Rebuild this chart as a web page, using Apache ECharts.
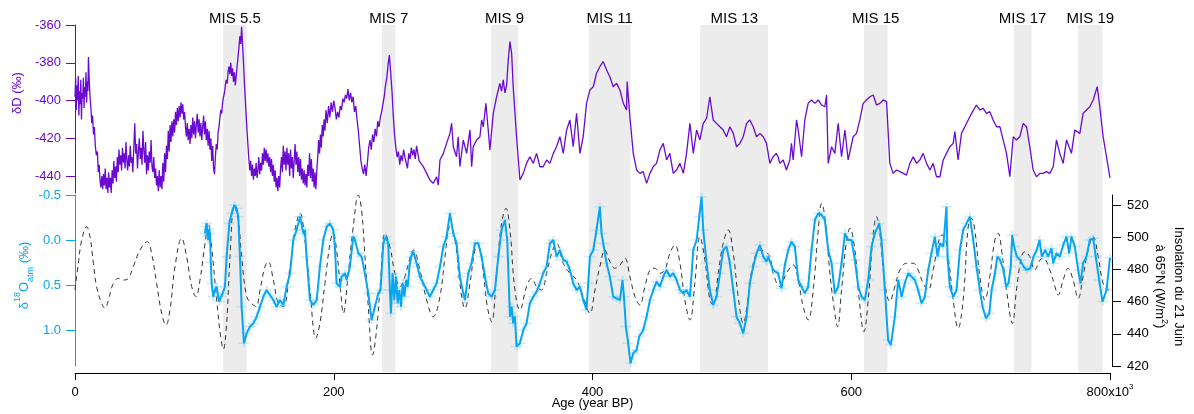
<!DOCTYPE html>
<html><head><meta charset="utf-8">
<script src="https://cdn.jsdelivr.net/npm/echarts@6/dist/echarts.min.js"></script>
<style>html,body{margin:0;padding:0;background:#fff}#c{width:1194px;height:414px}</style>
</head><body><div id="c"></div>
<script>
// ---- data (age in ka BP, values) ----
const deltaD = [
[0,-398],[0.5,-388],[1,-405],[1.5,-392],[2,-400],[2.5,-387],[3,-408],[3.5,-395],[4,-402],[4.5,-389],[5,-410],[5.5,-396],[6,-399],[6.5,-388],[7,-404],[7.5,-393],[8,-398],[8.5,-385],[9,-401],[9.5,-390],[10,-395],[10.4,-377],[11,-389],[11.6,-398],[12.3,-404],[13,-412],[13.6,-408],[14.3,-418],[15,-414],[15.7,-424],[16.5,-429],[17.3,-427],[18,-438],[18.7,-434],[19.3,-442],[20,-446],[20.7,-440],[21.4,-447],[22,-439],[22.7,-445],[23.4,-436],[24,-447],[24.7,-441],[25.4,-449],[26,-438],[26.7,-446],[27.4,-441],[28,-449],[28.7,-437],[29.4,-444],[30,-432],[30.7,-441],[31.4,-435],[32,-443],[32.7,-430],[33.4,-438],[34,-426],[34.7,-434],[35.4,-429],[36,-437],[36.7,-425],[37.4,-433],[38,-428],[38.7,-436],[39.4,-422],[40,-431],[40.7,-437],[41.4,-429],[42,-435],[42.7,-424],[43.4,-433],[44,-430],[44.7,-438],[45.4,-426],[46.2,-412],[46.9,-428],[47.6,-423],[48.3,-436],[49,-427],[49.7,-420],[50.4,-431],[51.1,-425],[51.8,-434],[52.5,-416],[53.2,-426],[53.9,-433],[54.6,-422],[55.3,-439],[56,-429],[56.7,-437],[57.4,-427],[58.1,-433],[58.8,-421],[59.5,-435],[60.2,-438],[60.9,-430],[61.6,-441],[62.3,-436],[63,-445],[63.7,-440],[64.4,-448],[65.1,-437],[65.8,-446],[66.5,-440],[67.2,-447],[67.9,-433],[68.6,-443],[69.3,-428],[70,-438],[70.7,-424],[71.4,-431],[72.1,-416],[72.8,-427],[73.5,-413],[74.2,-422],[74.9,-411],[75.6,-419],[76.3,-410],[77,-417],[77.7,-406],[78.4,-413],[79.1,-404],[79.8,-411],[80.5,-403],[81.2,-409],[81.9,-401],[82.6,-407],[83.3,-402],[84,-410],[84.7,-406],[85.4,-414],[86.1,-419],[86.8,-412],[87.5,-421],[88.2,-415],[88.9,-423],[89.6,-413],[90.3,-420],[91,-409],[91.7,-418],[92.4,-411],[93.1,-420],[93.8,-413],[94.5,-407],[95.2,-417],[95.9,-410],[96.6,-419],[97.3,-412],[98,-421],[98.7,-414],[99.4,-408],[100.1,-418],[100.8,-411],[101.5,-421],[102.2,-415],[102.9,-424],[103.6,-416],[104.3,-426],[105,-420],[105.7,-432],[106.4,-424],[107.1,-436],[107.8,-439],[108.5,-430],[109.2,-423],[109.9,-426],[110.6,-417],[111.3,-414],[112,-409],[112.7,-405],[113.4,-407],[114.1,-401],[114.8,-398],[115.5,-396],[116.2,-392],[116.9,-389],[117.6,-391],[118.3,-385],[119,-382],[119.7,-386],[120.4,-380],[121.1,-387],[121.8,-383],[122.5,-390],[123.2,-385],[123.9,-392],[124.6,-387],[125.3,-382],[126,-377],[126.7,-372],[127.4,-366],[128.1,-370],[128.8,-361],[129.5,-370],[130.2,-379],[130.9,-390],[131.6,-399],[132.3,-408],[133,-416],[133.7,-424],[134.4,-431],[135.1,-437],
[135.8,-432],[136.5,-440],[137.2,-434],[137.9,-442],[138.6,-436],[139.3,-440],[140,-433],[140.7,-441],[141.4,-437],[142.1,-430],[142.8,-439],[143.5,-433],[144.2,-437],[144.9,-428],[145.6,-434],[146.3,-425],[147,-432],[147.7,-426],[148.4,-433],[149.1,-428],[149.8,-435],[150.5,-430],[151.2,-438],[151.9,-431],[152.6,-440],[153.3,-434],[154,-443],[154.7,-437],[155.4,-446],[156.1,-441],[156.8,-448],[157.5,-440],[158.2,-446],[158.9,-436],[159.6,-430],[160.3,-438],[161,-424],[161.7,-434],[162.4,-427],[163.1,-437],[163.8,-425],[164.5,-434],[165.2,-428],[165.9,-440],[166.6,-426],[167.3,-436],[168,-430],[168.7,-441],[169.4,-432],[170.1,-423],[170.8,-434],[171.5,-427],[172.2,-438],[172.9,-430],[173.6,-440],[174.3,-431],[175,-442],[175.7,-436],[176.4,-444],[177.1,-437],[177.8,-445],[178.5,-439],[179.2,-446],[179.9,-434],[180.6,-440],[181.3,-428],[182,-441],[182.7,-431],[183.4,-443],[184.1,-436],[184.8,-446],[185.5,-438],[186.2,-447],[186.9,-437],[187.6,-430],[188.3,-421],[189,-428],[189.7,-418],[190.4,-425],[191.1,-413],[191.8,-419],[192.5,-410],[193.2,-416],[194,-405],[195,-412],[196,-403],[197,-409],[198,-401],[199,-406],[200,-400],[201,-404],[202,-410],[203,-406],[204,-409],[205,-403],[206,-405],[207,-399],[208,-401],[209,-397],[210,-399],[211,-394],[212,-400],[213,-396],[214,-401],[215,-398],[216,-406],[217,-403],[218,-410],[219,-416],[220,-424],[221,-432],[222,-436],[223,-439],[224,-434],[225,-440],[226,-433],[227,-425],[228,-421],[229,-426],[230,-418],[231,-422],[232,-415],[233,-419],[234,-411],[235,-414],[236,-409],[237,-406],[238,-402],[239,-398],[240,-392],[241,-388],[242,-381],[243,-376],[244,-385],[245,-395],[246,-408],[247,-418],[248,-425],[249,-430],[250,-427],[251,-434],[252,-429],[253,-432],[254,-426],[255,-430],[256,-433],[257,-436],[258,-428],[259,-431],[260,-425],[261,-429],[262,-426],[263,-431],[264,-424],[265,-428],[266,-432],
[269.2,-435],[271.8,-438.6],[274.3,-442.1],[276.9,-443.9],[279.5,-440.4],[280.8,-444.8],[282.1,-431.5],[284.7,-428],[287.2,-422.7],[289.8,-417.4],[291.1,-412.1],[292.4,-424.5],[294.9,-429.8],[296.2,-419.2],[297.5,-435],[300.1,-420.9],[302.7,-428],[305.3,-415.6],[306.6,-435.1],[307.8,-424.5],[310.4,-420.9],[313,-419.2],[314.3,-410.3],[315.6,-413.9],[317.6,-401.5],[319.4,-415.6],[320.7,-426.2],[323.3,-406.8],[325.9,-398],[328.4,-390.9],[329.7,-395],[331,-389],[332.3,-396],[333.6,-392],[334.9,-378.5],[336.2,-368.8],[337.5,-375],[338.7,-392.7],[341.3,-419.2],[343.9,-442.1],[346.5,-438.6],[349,-433.3],[351.6,-429.8],[354.2,-433.3],[356.8,-428],[359.4,-435.1],[361.9,-435.1],[364.5,-431.5],[367.1,-433.3],[369.7,-428],[372.2,-424.5],[374.8,-419.2],[377.4,-428],[380,-415.6],[382.5,-410.3],[385.1,-424.5],[387.7,-406.8],[390.3,-428],[392.8,-419.2],[395.4,-401.5],[398,-394.4],[400.6,-392.7],[403.1,-385.6],[405.7,-382.1],[408.3,-379.4],[410.9,-383.8],[413.4,-387.4],[416,-392.7],[418.6,-390.9],[421.2,-394.4],[423.8,-401.5],[426.3,-405],[426.8,-390],[428.9,-408.6],[431.5,-428],[434.1,-436.8],[436.6,-438.6],[439.2,-437.7],[441.8,-443.9],[444.4,-438.6],[447,-435],[449.5,-433.3],[452.1,-426.2],[454.7,-422.7],[457.3,-431.5],[459.8,-428],[462.4,-438.6],[465,-436.8],[467.6,-433.3],[470.2,-438.6],[472.7,-428],[475.3,-412.1],[477.9,-428],[480.5,-415.6],[483,-420.9],[485.6,-412.1],[488.2,-409.4],[490.7,-398],[493.3,-410.3],[495.9,-412.1],[498.5,-413.9],[501,-415.6],[503.6,-419.2],[506.2,-413.9],[508.8,-417.4],[511.3,-424.5],[513.9,-422.7],[516.5,-419.2],[519.1,-412.1],[521.6,-410.3],[524.2,-413.9],[526.8,-419.2],[529.4,-417.4],[532,-419.2],[534.5,-422.7],[537.1,-433.3],
[539.6,-429.8],[542.1,-428],[543.4,-429.8],[544.8,-433.3],[547.4,-431.5],[549.9,-436.8],[552.5,-431.5],[553.8,-422.7],[555.1,-431.5],[557.7,-410.3],[559,-415.6],[561.6,-429.8],[564.1,-410.3],[566.7,-401.5],[569.3,-399.7],[571.9,-401.5],[574.5,-399.7],[577.1,-402.4],[579.6,-403.3],[580.9,-397.1],[582.2,-433.3],[584.8,-424.5],[587.3,-428],[589.9,-412.1],[592.5,-429.8],[595.1,-415.6],[597.6,-431.5],[601.5,-419.2],[604.1,-417.4],[606.6,-410.3],[609.2,-401.5],[611.8,-399.7],[614.4,-398],[617,-397.1],[619.5,-402.4],[622.1,-401.5],[624.7,-399.7],[627.3,-400.6],[629.8,-433.3],[632.4,-438.6],[635,-436.8],[637.6,-437.7],[640.2,-438.6],[642.7,-439.5],[645.3,-433.3],[647.9,-429.8],[650.5,-433.3],[653,-431.5],[655.6,-428],[658.2,-433.3],[660.8,-436.8],[663.3,-433.3],[665.9,-440.4],[668.5,-440.4],[671.1,-431.5],[673.6,-428],[676.2,-424.5],[678.8,-422.7],[680.1,-416.5],[682.6,-431.5],[685.2,-417.4],[687.8,-413.9],[690.4,-410.3],[693,-406.8],[696.8,-402.4],[699.4,-405],[702,-404.2],[704.5,-406.8],[707.1,-405.9],[709.7,-410.3],[712.3,-413.9],[714.9,-413.9],[717.4,-420.9],[720,-428],[722.6,-440.4],[725.2,-419.2],[727.7,-420.9],[730.3,-419.2],[732.9,-412.1],[735.5,-413.9],[738,-424.5],[740.6,-436.8],[743.2,-440.4],[745.8,-438.6],[748.3,-438.6],[750.9,-437.7],[753.5,-438.6],[756.1,-435.1],[758.6,-420.9],[761.2,-428],[763.8,-433.3],[766.4,-420.9],[770.2,-428],[772.8,-415.6],[776.7,-417.4],[779.2,-406.8],[781.8,-405],[784.4,-403.3],[787,-399.7],[790.1,-392.7],[792.1,-403.3],[794.7,-419.2],[797.3,-429.8],[799.4,-438.6],[800,-441]
];
const d18Oatm = [
[100.5,-0.074],[101.2,-0.15],[101.8,-0.185],[102.4,-0.05],[103,0],[103.6,-0.12],[104.3,-0.074],[105,0.25],[105.6,0.481],[106.9,0.63],[108.2,0.55],[109.5,0.519],[110.5,0.62],[111.5,0.685],[112.8,0.63],[114.1,0.593],[115.9,0.519],[117.2,0.185],[119.3,-0.185],[121.1,-0.296],[123.1,-0.389],[124.9,-0.352],[126.2,-0.259],[127.5,0.185],[128.8,0.741],[130.6,1.148],[132.7,1.037],[135.2,0.963],[137.8,0.926],[140.4,0.852],[143,0.741],[145.5,0.63],[148.1,0.556],[150.7,0.611],[153.3,0.667],[155.8,0.741],[158.4,0.667],[161,0.722],[163.6,0.519],[166.2,0.37],[168.7,0],[171.3,-0.111],[173.9,-0.259],[176.5,-0.074],[177.7,-0.111],[179,0.185],[181.6,0.667],[184.2,0.722],[186.8,0.667],[189.3,0.296],[191.9,0],[194.5,-0.148],[197.1,-0.185],[199.6,-0.111],[200.9,0.074],[202.2,0.481],[204.8,0.519],[206.1,0.407],[208.7,0.37],[209.9,0.444],[212.5,0.296],[215.1,-0.037],[216.4,0],[219,0.148],[221.5,0.185],[224.1,0.37],[226.7,0.593],[229.3,0.889],[231.8,0.741],[234.4,0.593],[236.2,0.556],[238.3,0.037],[240.3,-0.037],[242.1,0.037],[243.4,0.556],[244.2,0.815],[245.5,0.37],[246.8,0.667],[248.1,0.407],[249.4,0.704],[250.7,0.556],[252,0.741],[253.3,0.481],[254.6,0.63],[255.9,0.444],[257.2,0.519],[258.5,0.296],[259.8,0.185],[261.5,0.13],[264,0.259],[266.6,0.407],[269.2,0.481],[271.8,0.556],[274.3,0.63],[276.9,0.556],[279.5,0.481],[282.1,0.296],[284.7,0.074],[287.2,-0.037],[289.8,-0.296],[292.4,-0.074],[294.9,0.037],[297.5,0.407],[300.1,0.593],[301.4,0.667],[304,0.37],[306.5,0.259],[309.1,0.037],[311.7,0.037],[314.3,0.185],[316.9,0.407],[319.4,0.593],[322,0.63],[324.6,0.556],[327.2,0.185],[329.7,-0.111],[332.3,-0.222],[334.1,0],[336.2,0.852],[337.5,0.74],[338.7,0.926],[340,0.85],[341.3,1.185],[343.9,1.148],[346.5,1.0],[349,0.926],[351.6,0.704],[354.2,0.63],[356.8,0.574],[359.4,0.481],[361.9,0.37],[364.5,0.296],[367.1,0.037],[369.7,0],[372.2,0.185],[374.8,0.111],[377.4,0.222],[380,0.241],[382.5,0.333],[385.1,0.481],[387.7,0.556],[390.3,0.519],[392.8,0.667],[395.4,0.778],[396.7,0.481],[398,0.185],[400.6,0.111],[403.1,-0.111],[405.7,-0.37],[407,-0.074],[408.3,0.037],[410.9,0.259],[413.4,0.407],[416,0.63],[418.6,0.648],[421.2,0.667],[423.2,0.444],[424.3,0.63],[425.8,0.963],[427.6,1.148],[429.4,1.37],[431.5,1.259],[434.1,1.222],[436.1,1.074],[439.2,1.0],[441.8,0.852],[444.4,0.667],[447,0.556],[449.5,0.463],[452.1,0.519],[454.7,0.407],[457.3,0.333],[459.8,0.407],[462.4,0.37],[465,0.444],[467.6,0.556],[470.2,0.593],[472.7,0.556],[475.3,0.63],[477.9,0.111],[480.5,0],[482.5,-0.259],[484.3,-0.481],[485.6,-0.111],[488.2,0.259],[490.7,0.556],[493.3,0.722],[495.9,0.63],[498.5,0.37],[501,0.111],[503.6,0.074],[506.2,0.259],[508.8,0.556],[511.3,0.852],[513.9,0.926],[516.5,1.037],[519.1,0.852],[521.6,0.481],[524.2,0.296],[526.8,0.148],[529.4,0.056],[532,0.185],[534.5,0.241],[535.8,0.185],[539.6,0.333],[543.5,0.37],[546.1,0.537],[548.7,0.278],[551.3,0.111],[553.8,0.019],[556.4,0.074],[559,0.444],[561.6,0.519],[564.1,0.593],[566.7,0.519],[569.3,0.111],[571.9,-0.222],[574.5,-0.296],[577.1,-0.278],[579.6,-0.222],[582.2,0.111],[584.8,0.259],[587.3,0.593],[589.9,0.519],[592.5,0.259],[595.1,-0.074],[597.6,0],[600.2,0],[602.8,0.222],[605.4,0.519],[608,0.63],[610.5,0.667],[613.1,0.444],[615.7,0.074],[618.2,-0.074],[621.6,-0.185],[623.4,0],[626,0.556],[628.5,1.111],[630.6,1.167],[633.7,0.852],[636.3,0.444],[638.9,0.63],[641.4,0.481],[644,0.37],[646.6,0.407],[649.2,0.444],[651.7,0.556],[654.3,0.704],[656.9,0.63],[659.5,0.333],[662,0.148],[664.6,-0.037],[666.7,0.185],[668.5,0.037],[671.1,0.074],[673.6,-0.37],[674.4,0.185],[676.2,0.519],[678.8,0.63],[681.4,0.556],[684,0.111],[686.5,-0.111],[689.1,-0.185],[691.7,-0.259],[694.3,0],[696.8,0.296],[699.4,0.556],[701.5,0.741],[704.1,0.87],[706.7,0.815],[708.5,0.556],[711.1,0.37],[712.9,0.185],[715,0.222],[717.6,0.333],[719.7,0.519],[721.5,0.481],[723.3,0.296],[724.4,-0.056],[725.9,0.074],[728,0.185],[730.6,0.222],[733.1,0.296],[735.7,0.333],[738.3,0.315],[740.9,0.185],[743.4,0.111],[745.5,0],[747.3,0.185],[749.9,0.111],[752.2,0.185],[754.8,0.093],[756.1,0.259],[758.6,0.148],[761.2,0.185],[763.8,0.056],[766.4,-0.037],[768.4,0.148],[770.2,-0.037],[772.8,0.074],[775.4,0.333],[777.2,0.481],[779.2,0.259],[781.8,0.185],[784.4,0],[787,-0.019],[789,0.185],[791.6,0.444],[794.2,0.685],[797.3,0.556],[800,0.2]
];
const insolation = [
[0,467.2],[2.6,483.8],[5.2,498.3],[9,506.5],[11.6,500.3],[14.2,483.8],[16.7,469.3],[20.6,458.9],[23.2,455.8],[25.8,461],[29.6,471.3],[33.5,474.4],[37.4,473.4],[41.2,474.4],[45.1,481.7],[50.2,492],[55.9,497.2],[59.2,490],[63.1,471.3],[67,452.7],[70.3,445.4],[73.4,454.8],[77.3,481.7],[82.4,499.3],[86.3,487.9],[90.2,469.3],[93.5,463.1],[96.6,473.4],[100.5,496.2],[103,508.6],[105.6,494.1],[109.5,461],[112.6,438.2],[114.6,430.4],[117.2,446.5],[119.8,487.9],[123.1,519],[126.2,510.7],[128.8,487.9],[132.7,463.1],[136.5,458.9],[139.9,456.9],[143,467.2],[146.8,481.7],[149.4,484.8],[153.3,473.4],[157.1,458.9],[161,456.9],[166.2,481.7],[170,504.5],[173.9,514.8],[177.7,498.3],[181.6,467.2],[186.2,437.2],[189.3,446.5],[193.2,471.3],[197.1,496.2],[199.6,502.4],[202.2,492],[205.3,467.2],[207.4,452.7],[211.2,477.6],[215.1,506.5],[219,526.2],[221.5,516.9],[224.1,487.9],[226.7,456.9],[230,426.8],[233.1,442.4],[236.2,473.4],[239.6,502.4],[243.4,494.1],[247.3,477.6],[251.2,469.3],[255,475.5],[258.5,486],[261.5,492],[266.6,479.6],[271.8,461],[276.9,450.6],[282.1,463.1],[286,487.9],[289.8,506.5],[293.7,498.3],[297.5,471.3],[301.4,455.8],[305.3,471.3],[309.1,492],[311.7,494.1],[315.6,477.6],[318.7,456.9],[322,447.5],[325.9,477.6],[329.7,508.6],[333.1,517.9],[336.2,504.5],[340,467.2],[343.9,454.8],[349,469.3],[352.9,474.4],[356.8,469.3],[360.6,467.2],[364.5,477.6],[368.4,490],[372.2,496.2],[377.4,483.8],[382.5,477.6],[387.7,473.4],[392.8,463.1],[398,452.7],[401.9,467.2],[405.7,481.7],[409.6,492],[413.4,484.8],[417.3,480.7],[421.2,482.7],[425,486.9],[428.9,475.5],[432.8,463.1],[436.6,457.9],[440.5,469.3],[444.4,479.6],[448.2,480.7],[452.1,477.6],[455.9,479.6],[459.8,490],[463.7,495.1],[467.6,483.8],[471.4,461],[475.3,448.6],[479.1,471.3],[483,500.3],[486.9,485.8],[490.7,461],[493.3,457.9],[497.2,477.6],[501,496.2],[504.9,504.5],[508.8,490],[512.6,463.1],[516.5,446.5],[520.4,463.1],[524.2,483.8],[529.4,492],[533.2,491],[537.1,487.9],[539.6,477.6],[544.8,469.3],[549.9,477.6],[555.1,482.7],[559,473.4],[562.8,456.9],[566.7,448.6],[570.6,467.2],[574.5,504.5],[577.1,521],[579.6,512.7],[583.5,477.6],[586.6,456.9],[589.4,444.4],[592.5,467.2],[596.4,498.3],[599,505.5],[602.8,492],[606.2,461],[609.8,441.3],[613.1,461],[617,502.4],[619.5,512.7],[622.1,502.4],[626,471.3],[629.8,460],[633.7,469.3],[637.6,479.6],[642.7,483.8],[647.9,483.8],[651.7,479.6],[655.6,471.3],[659.5,467.2],[663.3,479.6],[668.5,500.3],[671.1,501.4],[674.9,487.9],[678.8,461],[682.6,443.4],[686.5,461],[690.4,506.5],[693,511.7],[695.5,504.5],[699.4,475.5],[703.3,461],[707.1,475.5],[711,498.3],[713.6,502.4],[716.2,492],[720,467.2],[724.6,446.5],[727.7,467.2],[731.6,487.9],[734.2,491],[738,487.9],[741.9,479.6],[745.8,485.8],[748.3,486.9],[753.5,479.6],[757.4,469.3],[759.9,464.1],[763.8,473.4],[767.6,480.7],[771.5,473.4],[775.4,462],[779.2,475.5],[783.1,492],[787,500.3],[790.9,487.9],[794.7,471.3],[798.6,467.2],[800,469.3]
];
const misNames = ['MIS 5.5','MIS 7','MIS 9','MIS 11','MIS 13','MIS 15','MIS 17','MIS 19'];
const misStart = [114.5,237.3,321.5,397.2,483.3,609.8,725.6,775.4];
const misEnd   = [132.7,247.8,342.5,429.4,535.8,628.0,739.3,794.2];
const xTicks = [0,200,400,600,800];
const dDTicks = [-440,-420,-400,-380,-360];
const d18Ticks = [-0.5,0,0.5,1.0];
const insTicks = [420,440,460,480,500,520];

// ---- styles ----
const FONT = 'Liberation Sans, Arial, sans-serif';
const PURPLE = '#6a0ad0';
const BLUE = '#08a6f2';
const chart = echarts.init(document.getElementById('c'), null, {renderer:'canvas'});

const gridBase = {left:75, right:84, containLabel:false, outerBoundsMode:'none'};
const option = {
  animation:false,
  backgroundColor:'#fff',
  textStyle:{fontFamily:FONT},
  grid:[
    Object.assign({top:25, height:347}, gridBase),
    Object.assign({top:25, height:168}, gridBase),
    Object.assign({top:195, height:171}, gridBase)
  ],
  xAxis:[
    {gridIndex:0, type:'value', min:0, max:800, show:false},
    {gridIndex:1, type:'value', min:0, max:800, show:false},
    {gridIndex:2, type:'value', min:0, max:800, position:'bottom', offset:7,
      axisLine:{show:true, onZero:false, lineStyle:{color:'#000', width:1}},
      axisTick:{show:true, length:7, customValues:xTicks, lineStyle:{color:'#000'}},
      axisLabel:{customValues:xTicks, color:'#000', fontSize:13, fontFamily:FONT, margin:10, lineHeight:18,
        formatter:v => v === 800 ? '800x10{s|3}' : String(v),
        rich:{s:{fontSize:8, lineHeight:10, verticalAlign:'top', color:'#000', fontFamily:FONT}}},
      splitLine:{show:false},
      name:'Age (year BP)', nameLocation:'middle', nameGap:24, nameMoveOverlap:false,
      nameTextStyle:{color:'#000', fontSize:13, fontFamily:FONT}}
  ],
  yAxis:[
    {gridIndex:0, type:'value', min:0, max:1, show:false},
    {gridIndex:1, type:'value', min:-449, max:-360, position:'left',
      axisLine:{show:true, onZero:false, lineStyle:{color:PURPLE, width:1}},
      axisTick:{show:true, length:9, customValues:dDTicks, lineStyle:{color:PURPLE}},
      axisLabel:{customValues:dDTicks, color:PURPLE, fontSize:13, fontFamily:FONT, margin:14},
      splitLine:{show:false},
      name:'δD (‰)', nameLocation:'middle', nameRotate:90, nameGap:51, nameMoveOverlap:false,
      nameTextStyle:{color:PURPLE, fontSize:13, fontFamily:FONT, padding:[0,0,0,32]}},
    {gridIndex:2, type:'value', min:-0.5, max:1.4, inverse:true, position:'left',
      axisLine:{show:true, onZero:false, lineStyle:{color:BLUE, width:1}},
      axisTick:{show:true, length:9, customValues:d18Ticks, lineStyle:{color:BLUE}},
      axisLabel:{customValues:d18Ticks, color:BLUE, fontSize:13, fontFamily:FONT, margin:14, formatter:v => v.toFixed(1)},
      splitLine:{show:false},
      name:'{d|δ}{u|18}{d|O}{l|atm}{d| (‰)}', nameLocation:'middle', nameRotate:90, nameGap:40, nameMoveOverlap:false,
      nameTextStyle:{color:BLUE, fontSize:13, fontFamily:FONT, padding:[0,0,0,10],
        rich:{d:{fontSize:13, lineHeight:22, color:BLUE, fontFamily:FONT},
              u:{fontSize:9, lineHeight:10, verticalAlign:'top', color:BLUE, fontFamily:FONT},
              l:{fontSize:9, lineHeight:10, verticalAlign:'bottom', color:BLUE, fontFamily:FONT}}}},
    {gridIndex:2, type:'value', min:420, max:526.2, position:'right', offset:2,
      axisLine:{show:true, onZero:false, lineStyle:{color:'#000', width:1}},
      axisTick:{show:true, length:9, customValues:insTicks, lineStyle:{color:'#000'}},
      axisLabel:{customValues:insTicks, color:'#000', fontSize:13, fontFamily:FONT, margin:15},
      splitLine:{show:false},
      name:'Insolation du 21 Juin\nà 65°N (W/m{u|2})', nameLocation:'middle', nameRotate:-90, nameGap:38, nameMoveOverlap:false,
      nameTextStyle:{color:'#000', fontSize:13, fontFamily:FONT, lineHeight:19, padding:[0,0,0,12],
        rich:{u:{fontSize:9, lineHeight:10, verticalAlign:'top', color:'#000', fontFamily:FONT}}}}
  ],
  series:[
    {type:'line', xAxisIndex:0, yAxisIndex:0, data:[[0,0.5]], showSymbol:false, silent:true,
      lineStyle:{opacity:0}, z:0,
      markArea:{silent:true, itemStyle:{color:'#ececec'},
        label:{show:true, position:'top', distance:-1, color:'#000', fontSize:15, fontFamily:FONT},
        data:misNames.map((n,i) => [{name:n, xAxis:misStart[i]}, {xAxis:misEnd[i]}])}},
    {type:'line', name:'dD', xAxisIndex:1, yAxisIndex:1, data:deltaD, showSymbol:false, silent:true,
      lineStyle:{color:PURPLE, width:1.3}, z:3},
    {type:'line', name:'ins', xAxisIndex:2, yAxisIndex:3, data:insolation, showSymbol:false, silent:true, smooth:0.4,
      lineStyle:{color:'#333', width:1, type:[5,4]}, z:2},
    {type:'scatter', xAxisIndex:2, yAxisIndex:2, data:d18Oatm, silent:true,
      symbol:'path://M0,4H4V0H6V4H10V6H6V10H4V6H0Z', symbolSize:[11,8],
      itemStyle:{color:'rgba(110,205,245,0.45)'}, z:3},
    {type:'line', name:'d18O', xAxisIndex:2, yAxisIndex:2, data:d18Oatm, showSymbol:false, silent:true,
      lineStyle:{color:BLUE, width:2}, z:4}
  ]
};
chart.setOption(option);
</script></body></html>
